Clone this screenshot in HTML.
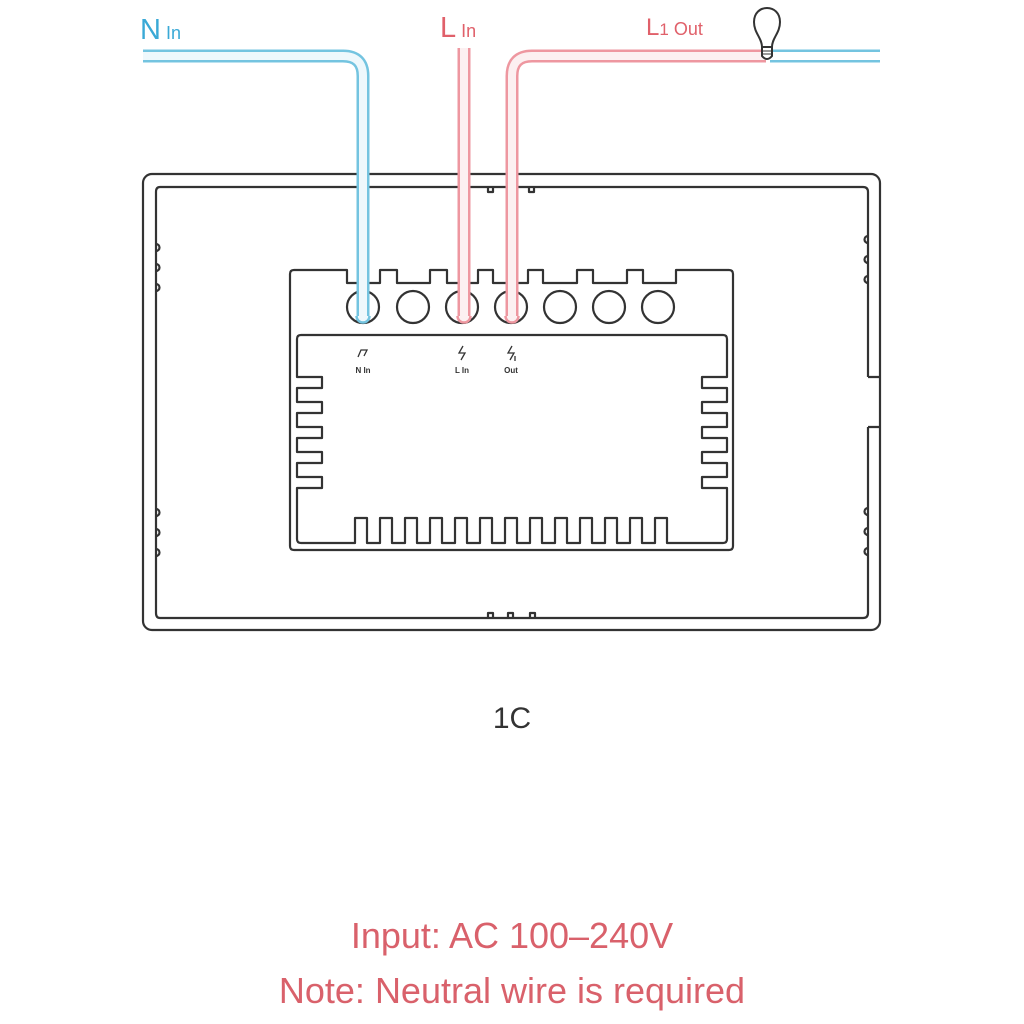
<!DOCTYPE html>
<html><head><meta charset="utf-8"><style>
html,body{margin:0;padding:0;background:#fff;}
svg{display:block;}
</style></head><body>
<svg width="1024" height="1024" viewBox="0 0 1024 1024" xmlns="http://www.w3.org/2000/svg">
<rect width="1024" height="1024" fill="#fff"/>
<g fill="none" stroke="#333" stroke-width="2.2" stroke-linejoin="round">
<rect x="143" y="174" width="737" height="456" rx="9"/>
<path d="M868,377 H880 M868,427 H880"/>
<path d="M160,187 H863 Q868,187 868,192 V377 M868,427 V613 Q868,618 863,618 H160 Q156,618 156,613 V192 Q156,187 160,187"/>
<path d="M156,244 a3,3 0 0 1 0,7 M156,264 a3,3 0 0 1 0,7 M156,284 a3,3 0 0 1 0,7 M156,509 a3,3 0 0 1 0,7 M156,529 a3,3 0 0 1 0,7 M156,549 a3,3 0 0 1 0,7"/>
<path d="M868,236 a3,3 0 0 0 0,7 M868,256 a3,3 0 0 0 0,7 M868,276 a3,3 0 0 0 0,7 M868,508 a3,3 0 0 0 0,7 M868,528 a3,3 0 0 0 0,7 M868,548 a3,3 0 0 0 0,7"/>
<path d="M488,187 v5 h5 v-5 M529,187 v5 h5 v-5"/>
<path d="M488,618 v-5 h5 v5 M508,618 v-5 h5 v5 M530,618 v-5 h5 v5"/>
<path d="M294,270 H347 V283 H380 V270 H397 V283 H430 V270 H447 V283 H478 V270 H493 V283 H528 V270 H543 V283 H577 V270 H593 V283 H627 V270 H643 V283 H676 V270 H729 Q733,270 733,274 V546 Q733,550 729,550 H294 Q290,550 290,546 V274 Q290,270 294,270 Z"/>
<path d="M301,335 H723 Q727,335 727,339 V377 H702 V388 H727 V402 H702 V413 H727 V427 H702 V438 H727 V452 H702 V463 H727 V477 H702 V488 H727 V539 Q727,543 723,543 H667 V518 H655 V543 H642 V518 H630 V543 H617 V518 H605 V543 H592 V518 H580 V543 H567 V518 H555 V543 H542 V518 H530 V543 H517 V518 H505 V543 H492 V518 H480 V543 H467 V518 H455 V543 H442 V518 H430 V543 H417 V518 H405 V543 H392 V518 H380 V543 H367 V518 H355 V543 H301 Q297,543 297,539 V488 H322 V477 H297 V463 H322 V452 H297 V438 H322 V427 H297 V413 H322 V402 H297 V388 H322 V377 H297 V339 Q297,335 301,335 Z"/>
<circle cx="363" cy="307" r="16"/><circle cx="413" cy="307" r="16"/><circle cx="462" cy="307" r="16"/><circle cx="511" cy="307" r="16"/><circle cx="560" cy="307" r="16"/><circle cx="609" cy="307" r="16"/><circle cx="658" cy="307" r="16"/>
</g>
<g fill="none" stroke-linecap="butt">
<path d="M143,56 H343 Q363,56 363,76 V316" stroke="#74c4e0" stroke-width="13"/>
<path d="M143,56 H343 Q363,56 363,76 V316" stroke="#eef8fc" stroke-width="8"/>
<path d="M464,48 V316" stroke="#ee97a0" stroke-width="13"/>
<path d="M464,48 V316" stroke="#fcf0f1" stroke-width="8"/>
<path d="M766,56 H532 Q512,56 512,76 V316" stroke="#ee97a0" stroke-width="13"/>
<path d="M766,56 H532 Q512,56 512,76 V316" stroke="#fcf0f1" stroke-width="8"/>
<path d="M770,56 H880" stroke="#74c4e0" stroke-width="13"/>
<path d="M770,56 H880" stroke="#fff" stroke-width="8"/>
</g>
<path d="M356.5,316 a6.5,6.5 0 0 0 13,0" fill="#eef8fc" stroke="#74c4e0" stroke-width="2.5"/>
<path d="M457.5,316 a6.5,6.5 0 0 0 13,0" fill="#fcf0f1" stroke="#ee97a0" stroke-width="2.5"/>
<path d="M505.5,316 a6.5,6.5 0 0 0 13,0" fill="#fcf0f1" stroke="#ee97a0" stroke-width="2.5"/>
<g fill="#fff" stroke="#333" stroke-width="2">
<path d="M762,47 C762,38 754,33 754,22 C754,13 760,8 767,8 C774,8 780,13 780,22 C780,33 772,38 772,47 Z"/>
<path d="M762,47 H772 V56 Q767,62 762,56 Z"/>
</g>
<path d="M762,51 H772 M762,54 H772" stroke="#333" stroke-width="1"/>
<g font-family="Liberation Sans, sans-serif">
<text x="140" y="39" fill="#3aa9d6" font-size="29">N<tspan font-size="18" dx="5">In</tspan></text>
<text x="440" y="37" fill="#e0606a" font-size="29">L<tspan font-size="18" dx="5">In</tspan></text>
<text x="646" y="35" fill="#e0606a" font-size="24">L<tspan font-size="17">1</tspan><tspan font-size="18" dx="5">Out</tspan></text>
<text x="363" y="373" fill="#333" font-size="8" font-weight="bold" text-anchor="middle">N In</text>
<text x="462" y="373" fill="#333" font-size="8" font-weight="bold" text-anchor="middle">L In</text>
<text x="511" y="373" fill="#333" font-size="8" font-weight="bold" text-anchor="middle">Out</text>
<text x="512" y="728" fill="#333" font-size="30" text-anchor="middle">1C</text>
<text x="512" y="948" fill="#d9616b" font-size="36" text-anchor="middle">Input: AC 100–240V</text>
<text x="512" y="1003" fill="#d9616b" font-size="36" text-anchor="middle">Note: Neutral wire is required</text>
</g>
<g fill="none" stroke="#333" stroke-width="1.3">
<path d="M358,357 L361,350 H367 L364,356"/>
<path d="M463,346 L459,353 H465 L461,360"/>
<path d="M512,346 L508,353 H514 L510,360 M515,356 V361"/>
</g>
</svg>
</body></html>
